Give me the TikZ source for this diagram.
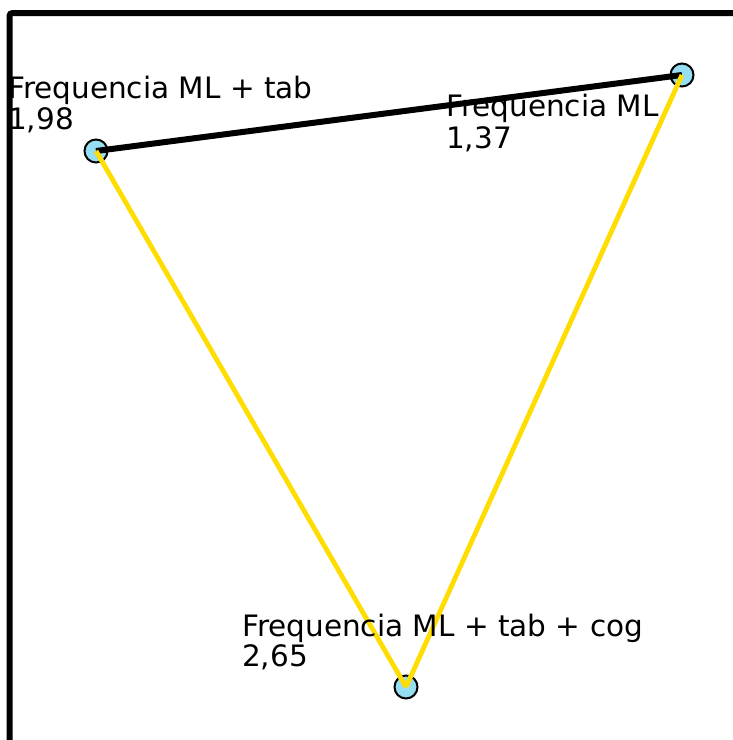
\documentclass[tikz,border=0pt]{standalone}
\usepackage{fontspec}
\setmainfont{DejaVu Sans}
\definecolor{edgeyellow}{RGB}{255,221,0}
\definecolor{vertfill}{RGB}{150,222,242}
\begin{document}
\begin{tikzpicture}[x=1pt,y=-1pt,
  vert/.style={circle,draw=black,line width=2pt,fill=vertfill,minimum size=23pt,inner sep=0pt},
  lbl/.style={anchor=base west,inner sep=0pt,font=\fontsize{29.5}{31}\selectfont},
  blackedge/.style={draw=black,line width=6pt},
  yellowedge/.style={draw=edgeyellow,line width=4.8pt}]
\useasboundingbox (0,0) rectangle (733,740);
\fill[white] (0,0) rectangle (733,740);
\draw[line width=6pt,rounded corners=3pt] (9.5,745) -- (9.5,13) -- (740,13);
% vertices
\node[vert] (A) at (96,151) {};
\node[vert] (B) at (682,75) {};
\node[vert] (C) at (406,687) {};
% edges
\draw[blackedge] (A.center) -- (B.center);
\draw[yellowedge] (A.center) -- (C.center);
\draw[yellowedge] (B.center) -- (C.center);
% labels
\node[lbl] (la1) at (8,98) {Frequencia ML + tab};
\node[lbl] (la2) at (8,129) {1,98};
\node[lbl] (lb1) at (446,116) {Frequencia ML};
\node[lbl] (lb2) at (446,148) {1,37};
\node[lbl] (lc1) at (242,636) {Frequencia ML + tab + cog};
\node[lbl] (lc2) at (242,666) {2,65};
\end{tikzpicture}
\end{document}
